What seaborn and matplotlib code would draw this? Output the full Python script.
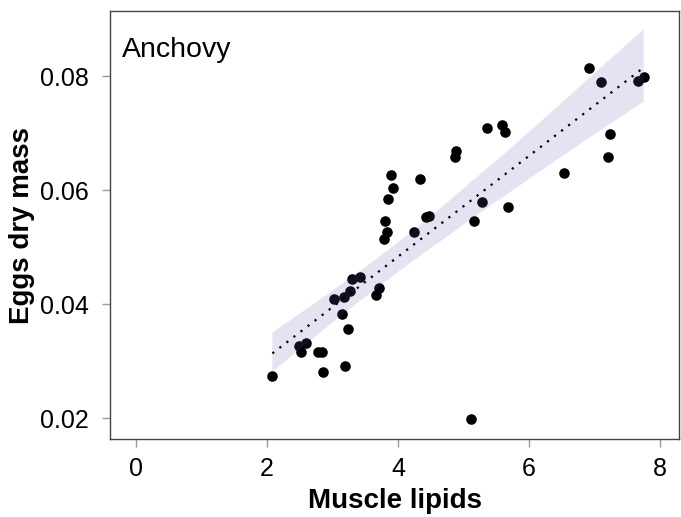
import numpy as np
import pandas as pd
import seaborn as sns
import matplotlib
matplotlib.use("Agg")
import matplotlib.pyplot as plt

# muscle lipids (x) and eggs dry mass (y)
lipids = [2.08, 2.48, 2.52, 2.59, 2.78, 2.84, 2.85, 3.19, 3.24, 3.14, 3.02,
          3.18, 3.26, 3.29, 3.42, 3.67, 3.71, 3.78, 3.83, 3.80, 3.84, 3.92,
          3.89, 4.34, 4.24, 4.43, 4.47, 4.87, 4.89, 5.16, 5.28, 5.11, 5.36,
          5.59, 5.64, 5.68, 6.53, 6.92, 7.10, 7.24, 7.21, 7.67, 7.75]
egg_mass = [0.0274, 0.0326, 0.0316, 0.0332, 0.0316, 0.0317, 0.0281, 0.0292,
            0.0357, 0.0383, 0.0410, 0.0412, 0.0424, 0.0444, 0.0447, 0.0417,
            0.0429, 0.0515, 0.0527, 0.0546, 0.0585, 0.0604, 0.0626, 0.0620,
            0.0527, 0.0553, 0.0554, 0.0659, 0.0669, 0.0546, 0.0580, 0.0198,
            0.0709, 0.0715, 0.0702, 0.0571, 0.0630, 0.0814, 0.0790, 0.0699,
            0.0659, 0.0791, 0.0799]
x_ticks = [0, 2, 4, 6, 8]
y_ticks = [0.02, 0.04, 0.06, 0.08]

df = pd.DataFrame({"lipids": lipids, "egg_mass": egg_mass})

sns.set_style("ticks")
plt.rcParams["font.family"] = ["Liberation Sans", "DejaVu Sans"]
plt.rcParams["text.color"] = "black"
plt.rcParams["axes.labelcolor"] = "black"
plt.rcParams["xtick.labelcolor"] = "black"
plt.rcParams["ytick.labelcolor"] = "black"

fig = plt.figure(figsize=(6.81, 5.17), dpi=100)
ax = fig.add_axes([110 / 681, 1 - 439.3 / 517, 569 / 681, 428.6 / 517])

sns.regplot(data=df, x="lipids", y="egg_mass", ax=ax, ci=95, seed=3,
            n_boot=5000, color="#5E5EB6",
            scatter_kws={"s": 58, "color": "black", "alpha": 1, "linewidths": 0},
            line_kws={"color": "black", "linestyle": (0, (1, 3)), "lw": 1.6})

# band colour
for coll in ax.collections[1:]:
    coll.set_facecolor("#5E5EB6")
    coll.set_alpha(0.17)
    coll.set_edgecolor("none")

ax.set_xlim(-0.4, 8.29)
ax.set_ylim(0.0163, 0.0915)
ax.set_xticks(x_ticks)
ax.set_yticks(y_ticks)
ax.set_yticklabels(["%.2f" % v for v in y_ticks])
ax.tick_params(direction="out", length=6, width=1, color="#999999",
               labelsize=18, labelcolor="black")
ax.tick_params(axis="y", pad=9)
ax.tick_params(axis="x", pad=7)
for s in ax.spines.values():
    s.set_visible(True)
    s.set_color("#444444")
    s.set_linewidth(1.0)

ax.set_xlabel("Muscle lipids", fontsize=20, fontweight="bold", labelpad=5,
              color="black")
ax.set_ylabel("Eggs dry mass", fontsize=20, fontweight="bold", labelpad=4,
              color="black")
ax.text(0.021, 0.891, "Anchovy", transform=ax.transAxes, fontsize=20.5,
        ha="left", va="baseline", color="black")

fig.savefig("out.png", dpi=100)
